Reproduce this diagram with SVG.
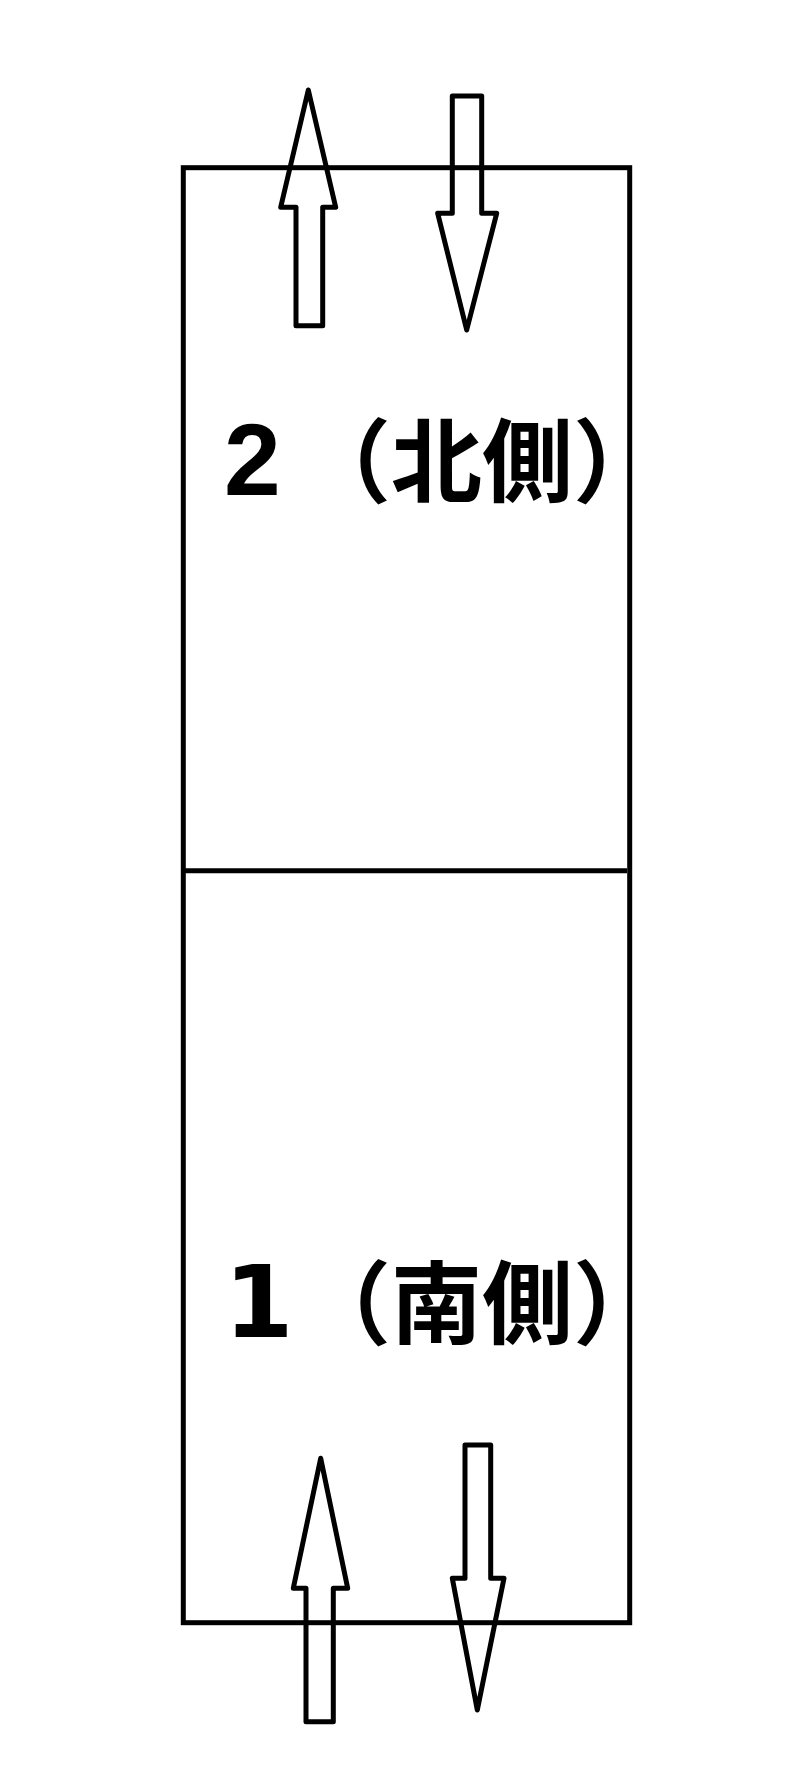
<svg xmlns="http://www.w3.org/2000/svg" width="793" height="1766" viewBox="0 0 793 1766">
<style>
.ln{fill:none;stroke:#000;stroke-width:5}
.ar{fill:none;stroke:#000;stroke-width:5;stroke-linejoin:round}
.cjk{font-family:"Noto Sans CJK JP","Noto Sans CJK SC",sans-serif;font-weight:bold;font-size:91px;fill:#000}
</style>
<rect width="793" height="1766" fill="#fff"/>
<g id="frame">
<rect class="ln" x="183.3" y="167.7" width="446.4" height="1455"/>
<line class="ln" x1="183.3" y1="870.7" x2="627" y2="870.7"/>
</g>
<g id="north">
<text y="495"><tspan x="224" style="font-family:'Liberation Sans',sans-serif;font-weight:bold;font-size:102px">2</tspan><tspan class="cjk" x="300">（北側）</tspan></text>
</g>
<g id="south">
<text y="1337"><tspan x="224" style="font-family:'DejaVu Sans',sans-serif;font-weight:bold;font-size:100px">1</tspan><tspan class="cjk" x="300">（南側）</tspan></text>
</g>
<g id="connectors">
<polygon class="ar" points="308.3,90 335.7,207.3 322.7,207.3 322.7,325.7 296,325.7 296,207.3 280.7,207.3"/>
<polygon class="ar" points="452.3,96 481.7,96 481.7,213.3 496.7,213.3 466.7,330 437.7,213.3 452.3,213.3"/>
<polygon class="ar" points="320.7,1458.3 347.7,1588.3 333.3,1588.3 333.3,1721.7 306,1721.7 306,1588.3 293.3,1588.3"/>
<polygon class="ar" points="465,1445 490.7,1445 490.7,1578.3 504,1578.3 477.3,1710 452.3,1578.3 465,1578.3"/>
</g>
</svg>
